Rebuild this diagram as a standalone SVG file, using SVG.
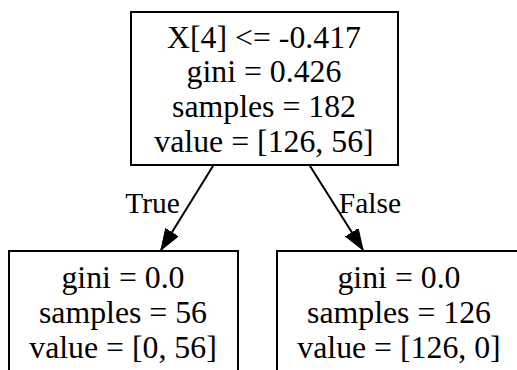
<svg xmlns="http://www.w3.org/2000/svg" width="517" height="370" viewBox="0 0 517 370">
<style>
.box{fill:#fff;stroke:#000;stroke-width:2}
.t{font-family:"Liberation Serif","Times New Roman",serif;font-size:31.8px;fill:#000;text-anchor:middle}
.l{font-family:"Liberation Serif","Times New Roman",serif;font-size:29.5px;fill:#000;text-anchor:middle}
.e{stroke:#000;stroke-width:2;fill:none}
</style>
<defs>
<marker id="ah" markerUnits="userSpaceOnUse" markerWidth="24" markerHeight="18" refX="21" refY="7.5" orient="auto">
<polygon points="0,0 21,7.5 0,15" fill="#000" stroke="#000" stroke-width="1"/>
</marker>
</defs>
<rect width="517" height="370" fill="#fff"/>
<g id="connectors">
<line class="e" x1="213" y1="166" x2="161" y2="250" marker-end="url(#ah)"/>
<line class="e" x1="310" y1="166" x2="363" y2="250" marker-end="url(#ah)"/>
<text class="l" x="152.5" y="213">True</text>
<text class="l" x="370" y="213">False</text>
</g>
<g id="node0">
<rect class="box" x="131" y="12" width="267" height="153"/>
<text class="t" x="264" y="47.5">X[4] &lt;= -0.417</text>
<text class="t" x="264" y="82.3">gini = 0.426</text>
<text class="t" x="264" y="117.1">samples = 182</text>
<text class="t" x="264" y="151.9">value = [126, 56]</text>
</g>
<g id="node1">
<rect class="box" x="9" y="251" width="229" height="140"/>
<text class="t" x="123" y="288">gini = 0.0</text>
<text class="t" x="123" y="323">samples = 56</text>
<text class="t" x="123" y="358">value = [0, 56]</text>
</g>
<g id="node2">
<rect class="box" x="277" y="251" width="244" height="140"/>
<text class="t" x="399" y="288">gini = 0.0</text>
<text class="t" x="399" y="323">samples = 126</text>
<text class="t" x="399" y="358">value = [126, 0]</text>
</g>
</svg>
